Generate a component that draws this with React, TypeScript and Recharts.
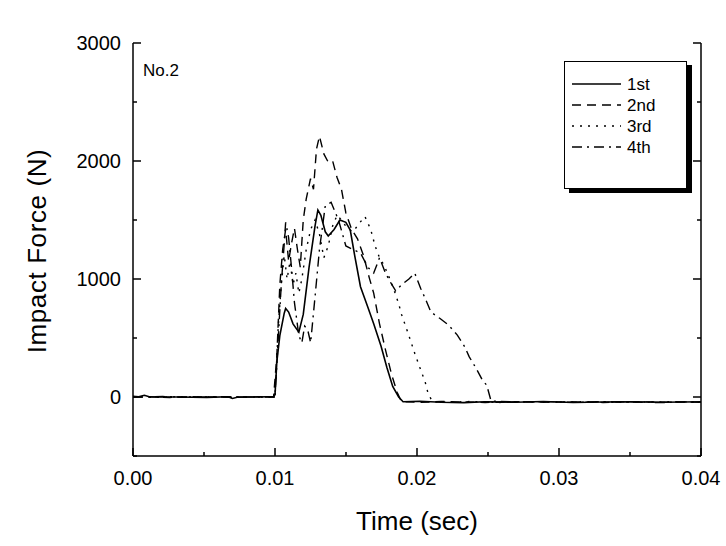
import React from "react";
import { LineChart, Line, XAxis, YAxis, Legend } from "recharts";

// ---- data (time in s, force in N) ----
const seriesNames = ["1st", "2nd", "3rd", "4th"];

const t1 = [0, 0.0004, 0.0008, 0.0012, 0.0031, 0.0052, 0.0067, 0.007, 0.0074, 0.0088, 0.0099, 0.01, 0.01013, 0.01034, 0.01065, 0.01075, 0.01096, 0.01127, 0.01168, 0.01199, 0.0124, 0.01282, 0.01302, 0.01323, 0.01354, 0.01375, 0.01416, 0.01457, 0.01499, 0.0153, 0.01561, 0.01602, 0.01654, 0.01695, 0.01747, 0.01788, 0.01829, 0.01871, 0.01902, 0.0202, 0.0217, 0.0233, 0.0248, 0.0269, 0.0289, 0.031, 0.0331, 0.0351, 0.0372, 0.0388, 0.04];
const f1 = [5, 2, 15, 0, 0, -3, 2, -12, 0, 0, 3, 20, 300, 520, 710, 750, 720, 620, 550, 700, 1100, 1450, 1585, 1540, 1400, 1365, 1420, 1500, 1480, 1415, 1200, 935, 760, 620, 430, 250, 90, 0, -40, -36, -45, -48, -40, -44, -38, -46, -42, -40, -45, -43, -40];

const t2 = [0, 0.001, 0.0026, 0.0041, 0.0057, 0.0072, 0.0088, 0.0099, 0.01013, 0.01034, 0.01054, 0.01075, 0.01096, 0.01116, 0.01137, 0.01158, 0.01178, 0.01199, 0.0122, 0.0125, 0.01271, 0.01292, 0.01313, 0.01344, 0.01375, 0.01406, 0.01437, 0.01468, 0.01499, 0.0154, 0.01581, 0.01623, 0.01664, 0.01695, 0.01736, 0.01778, 0.01819, 0.0186, 0.01891, 0.0202, 0.0217, 0.0233, 0.0248, 0.0269, 0.0289, 0.031, 0.0331, 0.0351, 0.0372, 0.0388, 0.04];
const f2 = [0, 3, -4, 2, 0, -3, 2, 0, 350, 950, 1250, 1420, 1150, 1300, 1430, 1250, 1100, 1500, 1680, 1850, 1760, 2100, 2210, 2060, 1990, 2000, 1860, 1760, 1560, 1420, 1340, 1200, 1010, 880, 620, 400, 200, 40, -40, -45, -38, -42, -47, -40, -44, -41, -46, -39, -44, -42, -45];

const t3 = [0, 0.0016, 0.0031, 0.0047, 0.0062, 0.0078, 0.0093, 0.01, 0.01023, 0.01044, 0.01065, 0.01085, 0.01106, 0.01127, 0.01147, 0.01168, 0.01189, 0.0122, 0.01251, 0.01282, 0.01313, 0.01344, 0.01375, 0.01406, 0.01437, 0.01468, 0.01509, 0.0155, 0.01592, 0.01633, 0.01674, 0.01705, 0.01736, 0.01767, 0.01809, 0.0184, 0.01871, 0.01891, 0.01943, 0.01984, 0.02026, 0.02057, 0.02077, 0.02108, 0.0222, 0.0238, 0.0258, 0.0279, 0.03, 0.032, 0.0341, 0.0362, 0.0382, 0.0395, 0.04];
const f3 = [0, -3, 2, 0, 3, -2, 0, 0, 600, 950, 1200, 1000, 1150, 950, 1050, 880, 1000, 1250, 1420, 1500, 1380, 1180, 1280, 1450, 1540, 1500, 1430, 1400, 1470, 1530, 1420, 1280, 1180, 1120, 1000, 900, 790, 700, 520, 370, 230, 130, 36, -40, -44, -38, -46, -41, -43, -39, -45, -42, -40, -44, -41];

const t4 = [0, 0.0021, 0.0041, 0.0062, 0.0083, 0.01, 0.01023, 0.01044, 0.01065, 0.01075, 0.01096, 0.01116, 0.01137, 0.01168, 0.01189, 0.01209, 0.0123, 0.01251, 0.01282, 0.01313, 0.01354, 0.01395, 0.01447, 0.01499, 0.0155, 0.01602, 0.01654, 0.01695, 0.01736, 0.01778, 0.01819, 0.0185, 0.01891, 0.01943, 0.01984, 0.02026, 0.02067, 0.02098, 0.0216, 0.02222, 0.02284, 0.02336, 0.02367, 0.02418, 0.0246, 0.02491, 0.02522, 0.0269, 0.0289, 0.031, 0.0331, 0.0351, 0.0372, 0.0388, 0.04];
const f4 = [0, 4, -3, 2, 0, 0, 500, 950, 1300, 1480, 1350, 1100, 800, 520, 460, 600, 570, 460, 850, 1250, 1620, 1650, 1500, 1280, 1250, 1220, 1100, 1050, 1180, 1050, 960, 900, 950, 1000, 1050, 920, 810, 720, 667, 610, 525, 426, 342, 240, 144, 100, -35, -42, -39, -45, -40, -43, -47, -41, -44];

const xMajor = [0, 0.01, 0.02, 0.03, 0.04];
const xMinor = [0.005, 0.015, 0.025, 0.035];
const xTickLabels = ["0.00", "0.01", "0.02", "0.03", "0.04"];
const yMajor = [0, 1000, 2000, 3000];
const yMinor = [-500, 500, 1500, 2500];
const yTickLabels = ["0", "1000", "2000", "3000"];

const dashes = ["", "9 6", "2 6", "10 5 2 5"];

const zip = (ts: number[], fs: number[]) =>
  ts.slice(0, Math.min(ts.length, fs.length)).map((t, i) => ({ t, f: fs[i] }));
const series = [zip(t1, f1), zip(t2, f2), zip(t3, f3), zip(t4, f4)];

const xTicks = [...xMajor, ...xMinor].sort((a, b) => a - b);
const yTicks = [...yMajor, ...yMinor].sort((a, b) => a - b);
const idxOf = (arr: number[], v: number) => arr.findIndex((a) => Math.abs(a - v) < 1e-9);

const FONT = "'Liberation Sans', Arial, sans-serif";
const AX = { stroke: "#000", strokeWidth: 1.5 };
const MID_X = 417;

const BottomTick = ({ x, y, payload }: any) => {
  const i = idxOf(xMajor, payload.value);
  const len = i >= 0 ? 8 : 4;
  return (
    <g>
      <line x1={x} x2={x} y1={y} y2={y - len} {...AX} />
      {i >= 0 && (
        <text x={x} y={y + 29} textAnchor="middle" fontSize={20} fill="#000" fontFamily={FONT}>
          {xTickLabels[i]}
        </text>
      )}
    </g>
  );
};

const TopTick = ({ x, y, payload }: any) => {
  const len = idxOf(xMajor, payload.value) >= 0 ? 8 : 4;
  return <line x1={x} x2={x} y1={y} y2={y + len} {...AX} />;
};

const LeftTick = ({ x, y, payload }: any) => {
  const i = idxOf(yMajor, payload.value);
  const len = i >= 0 ? 8 : 4;
  return (
    <g>
      <line x1={x} x2={x + len} y1={y} y2={y} {...AX} />
      {i >= 0 && (
        <text x={x - 12} y={y + 7} textAnchor="end" fontSize={20} fill="#000" fontFamily={FONT}>
          {yTickLabels[i]}
        </text>
      )}
    </g>
  );
};

const RightTick = ({ x, y, payload }: any) => {
  const len = idxOf(yMajor, payload.value) >= 0 ? 8 : 4;
  return <line x1={x} x2={x - len} y1={y} y2={y} {...AX} />;
};

const LegendBox = () => (
  <div
    style={{
      width: 121,
      height: 126,
      background: "#fff",
      border: "1.5px solid #000",
      boxShadow: "5px 4px 0 #000",
    }}
  >
    <svg width={121} height={126}>
      {seriesNames.map((n, i) => {
        const y = 22 + i * 21;
        return (
          <g key={n}>
            <line x1={7} x2={56} y1={y} y2={y} stroke="#000" strokeWidth={1.5} strokeDasharray={dashes[i] || undefined} />
            <text x={62} y={y + 6} fontSize={17} fill="#000" fontFamily={FONT}>
              {n}
            </text>
          </g>
        );
      })}
    </svg>
  </div>
);

export default function App() {
  return (
    <div style={{ position: "relative", width: 726, height: 546, background: "#fff", fontFamily: FONT }}>
      <style>{`body{margin:0}`}</style>
      <LineChart width={726} height={546} margin={{ top: 43, right: 19, bottom: 0, left: 0 }} style={{ fontFamily: FONT }}>
        <XAxis
          dataKey="t"
          type="number"
          domain={[0, 0.04]}
          ticks={xTicks}
          allowDataOverflow
          height={90}
          tickSize={0}
          tickMargin={0}
          tickLine={false}
          axisLine={AX}
          tick={<BottomTick />}
          interval={0}
          label={{
            content: () => (
              <text x={MID_X} y={530} textAnchor="middle" fontSize={26} fill="#000" fontFamily={FONT}>
                Time (sec)
              </text>
            ),
          }}
        />
        <XAxis
          xAxisId="top"
          orientation="top"
          dataKey="t"
          type="number"
          domain={[0, 0.04]}
          ticks={xTicks}
          allowDataOverflow
          height={0}
          tickSize={0}
          tickMargin={0}
          tickLine={false}
          axisLine={AX}
          tick={<TopTick />}
          interval={0}
          label={{
            content: () => (
              <text x={MID_X} y={29} textAnchor="middle" fontSize={23} fill="#000" fontFamily={FONT}>
                Doublet Grid (3x3 cell)
              </text>
            ),
          }}
        />
        <YAxis
          type="number"
          domain={[-500, 3000]}
          ticks={yTicks}
          allowDataOverflow
          width={133}
          tickSize={0}
          tickMargin={0}
          tickLine={false}
          axisLine={AX}
          tick={<LeftTick />}
          interval={0}
          label={{
            content: () => (
              <text x={37} y={251} transform="rotate(-90 37 251)" textAnchor="middle" dominantBaseline="central" fontSize={26} letterSpacing={0.6} fill="#000" fontFamily={FONT}>
                Impact Force (N)
              </text>
            ),
          }}
        />
        <YAxis
          yAxisId="right"
          orientation="right"
          type="number"
          domain={[-500, 3000]}
          ticks={yTicks}
          allowDataOverflow
          width={6}
          tickSize={0}
          tickMargin={0}
          tickLine={false}
          axisLine={AX}
          tick={<RightTick />}
          interval={0}
        />
        {series.map((d, i) => (
          <Line
            key={seriesNames[i]}
            data={d}
            dataKey="f"
            name={seriesNames[i]}
            type="linear"
            stroke="#000"
            strokeWidth={i === 0 ? 1.6 : 1.4}
            strokeDasharray={dashes[i] || undefined}
            dot={false}
            activeDot={false}
            isAnimationActive={false}
          />
        ))}
        <Legend
          layout="horizontal"
          verticalAlign="middle"
          align="center"
          content={<LegendBox />}
          wrapperStyle={{ position: "absolute", left: 564, top: 61, width: "auto", height: "auto" }}
        />
      </LineChart>
      <div style={{ position: "absolute", left: 143, top: 61, fontSize: 17, color: "#000" }}>No.2</div>
    </div>
  );
}
